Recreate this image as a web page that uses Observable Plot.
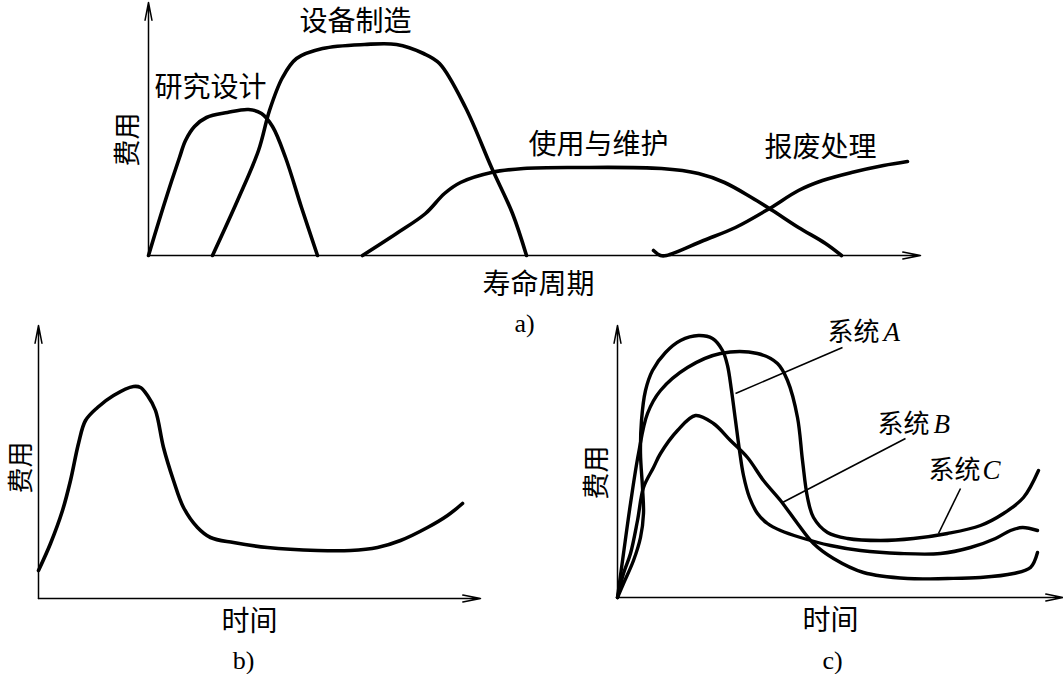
<!DOCTYPE html>
<html><head><meta charset="utf-8">
<script src="https://cdn.jsdelivr.net/npm/d3@7"></script>
<script src="https://cdn.jsdelivr.net/npm/@observablehq/plot@0.6"></script>
<style>
body{margin:0;background:#fff;}
#wrap{position:relative;width:1063px;height:674px;background:#fff;overflow:hidden;}
#wrap svg{position:absolute;left:0;top:0;background:transparent;overflow:visible;}
</style></head>
<body><div id="wrap"></div>
<script>
// ---------- Panel a: life-cycle cost phases (x: 寿命周期, y: 费用) ----------
const researchDesign = [[0,0],[1,3.3],[2.1,6.8],[3.1,9.8],[3.7,11.5],[4.6,12.9],[5.8,13.8],[7.9,14.3],[10,14.6],[11.3,14.2],[12.4,12.9],[13.7,9.8],[15.3,4.8],[16.9,0]];
const equipmentMfg = [[6.4,0],[8.9,5.5],[11,10.5],[12.1,14.5],[13.4,17.8],[14.8,19.7],[17.4,20.7],[21.6,21.1],[24.8,21.1],[27.5,20.2],[29.1,19.2],[31.7,14.8],[34.3,8.8],[36.4,4.2],[37.8,0]];
const useMaintain = [[21.4,0],[24.8,2.2],[27.7,4.2],[29.6,6.2],[31.2,7.3],[34.3,8.3],[37.5,8.7],[42.8,8.8],[51.3,8.7],[55,8.2],[57.6,7.3],[60.3,5.8],[62.4,4.5],[65,2.8],[67.7,1.2],[69.3,0]];
const disposal = [[50.5,0.5],[51.2,0],[51.8,0],[55.5,1.5],[58.7,2.8],[62.1,4.7],[65,6.5],[67.4,7.5],[70.3,8.3],[73.5,9],[75.9,9.4]];
const aLabels = [
  {x:20.7, y:23.3, text:"设备制造"},
  {x:6.2,  y:16.7, text:"研究设计"},
  {x:45,   y:11,   text:"使用与维护"},
  {x:67.2, y:10.7, text:"报废处理"},
  {x:39,   y:-3,   text:"寿命周期"}
];

// ---------- Panel b: cost over time ----------
const costB = [[0,2.8],[1.2,5.5],[2.4,8.8],[3.2,11.8],[4,15.5],[4.7,17.8],[5.9,19.1],[7.5,20.3],[9.5,21.2],[10.2,21.1],[10.9,20.3],[11.7,18.8],[12.5,15.1],[13.5,11.8],[14.5,9.1],[15.9,7.1],[17.2,6.1],[19.5,5.6],[22.9,5.1],[27.9,4.8],[31.2,4.8],[33.9,5.1],[36.2,5.8],[38.9,7.1],[40.9,8.3],[42.4,9.5]];

// ---------- Panel c: systems A, B, C ----------
const systemA = [[0,0],[0.6,1.4],[1.6,3.7],[2.3,6],[2.6,8.4],[2.5,11],[2.3,14.4],[2.4,17.7],[2.8,20.7],[3.5,22.7],[4.8,24.5],[6.3,25.7],[8.1,26.2],[9.5,25.9],[10.5,24.7],[11,23.2],[11.4,20.7],[11.8,17.7],[12.2,14.7],[12.6,12.2],[13.2,10],[14,8.4],[15,7.4],[16.3,6.7],[18.3,6],[21.3,5.2],[24.3,4.7],[28.3,4.4],[32.3,4.4],[35.3,5],[37.8,5.9],[39.3,6.7],[40.5,7],[42,6.7]];
const systemB = [[0,0],[0.6,2.4],[1.3,4.4],[2,7.7],[2.6,11],[3.6,13],[4.3,14.4],[6,16.7],[7.8,18.2],[9.6,17.4],[11.3,15.7],[13,14],[14.6,11.7],[16.3,9.7],[18,7.4],[19.6,5.4],[21.6,3.9],[24.6,2.5],[29,1.9],[33,1.9],[36.3,2],[39.6,2.4],[41.3,3],[42,4.5]];
const systemC = [[0,0],[0.6,4.4],[1.3,9.4],[2.1,14.4],[3,18.4],[4.3,20.7],[7,23],[10.3,24.4],[14,24.4],[16,23.4],[17,21.7],[18,18],[18.5,13.7],[19,10],[19.6,8],[21,6.5],[23,5.9],[26.3,5.7],[29.6,5.9],[33,6.4],[36.3,7.2],[38.6,8.4],[40.6,10],[42.1,12.7]];
const leaders = [
  {x1:22.5, y1:25,   x2:11.8, y2:20.4},
  {x1:28.8, y1:15.9, x2:16.5, y2:9.5},
  {x1:34.3, y1:10.9, x2:32.1, y2:6.4}
];
const systemNames = [
  {x:21,   y:26.5, text:"系统"},
  {x:26,   y:17.3, text:"系统"},
  {x:31.1, y:12.7, text:"系统"}
];
const systemLetters = [
  {x:26.6, y:26.5, text:"A"},
  {x:31.6, y:17.3, text:"B"},
  {x:36.5, y:12.7, text:"C"}
];

const CJK = "'Noto Sans CJK SC', 'Noto Sans', sans-serif";
const SERIF = "'Liberation Serif', 'DejaVu Serif', serif";
const W = 1063, H = 674;

function axesMarks(xmax, ymax) {
  return [
    Plot.arrow([{x1:0,y1:0,x2:0,y2:ymax}], {x1:"x1",y1:"y1",x2:"x2",y2:"y2", stroke:"black", strokeWidth:1.5, headLength:18, headAngle:22, inset:0}),
    Plot.arrow([{x1:0,y1:0,x2:xmax,y2:0}], {x1:"x1",y1:"y1",x2:"x2",y2:"y2", stroke:"black", strokeWidth:1.5, headLength:18, headAngle:22, inset:0})
  ];
}
function curve(data, sw) {
  return Plot.line(data, {x:d=>d[0], y:d=>d[1], curve:"catmull-rom", stroke:"black", strokeWidth:sw, strokeLinejoin:"round", strokeLinecap:"round"});
}
function cjkText(data, size, extra) {
  return Plot.text(data, Object.assign({x:"x", y:"y", text:"text", fontFamily:CJK, fontSize:size, fill:"black"}, extra||{}));
}

function panel(frame, xmax, ymax, marks) {
  const svg = Plot.plot({
    width: W, height: H,
    marginLeft: frame.left, marginRight: W - frame.right,
    marginTop: frame.top, marginBottom: H - frame.bottom,
    x: {domain:[0,xmax], axis:null},
    y: {domain:[0,ymax], axis:null},
    style: {background:"transparent", overflow:"visible"},
    marks
  });
  svg.style.position = "absolute"; svg.style.left = "0"; svg.style.top = "0";
  document.getElementById("wrap").appendChild(svg);
}

// Panel a
panel({left:148, right:920, top:2, bottom:255}, 77.2, 25.3, [
  ...axesMarks(77.2, 25.3),
  curve(researchDesign, 3.6),
  curve(equipmentMfg, 3.6),
  curve(useMaintain, 3.6),
  curve(disposal, 3.6),
  cjkText(aLabels, 28),
  cjkText([{x:-2, y:11.6, text:"费用"}], 27, {rotate:-90}),
  Plot.text([{x:37.6, y:-6.8, text:"a)"}], {x:"x", y:"y", text:"text", fontFamily:SERIF, fontSize:26, fill:"black"})
]);

// Panel b
panel({left:38, right:480, top:325, bottom:598}, 44.2, 27.3, [
  ...axesMarks(44.2, 27.3),
  curve(costB, 3.6),
  cjkText([{x:-1.7, y:13.1, text:"费用"}], 26, {rotate:-90}),
  cjkText([{x:21.1, y:-2.4, text:"时间"}], 28),
  Plot.text([{x:20.5, y:-6.2, text:"b)"}], {x:"x", y:"y", text:"text", fontFamily:SERIF, fontSize:26, fill:"black"})
]);

// Panel c
panel({left:617, right:1063, top:325, bottom:597}, 44.6, 27.2, [
  ...axesMarks(44.6, 27.2),
  curve(systemA, 3.4),
  curve(systemB, 3.4),
  curve(systemC, 3.4),
  Plot.link(leaders, {x1:"x1", y1:"y1", x2:"x2", y2:"y2", stroke:"black", strokeWidth:1.6}),
  cjkText(systemNames, 26, {textAnchor:"start"}),
  Plot.text(systemLetters, {x:"x", y:"y", text:"text", fontFamily:SERIF, fontStyle:"italic", fontSize:27, fill:"black", textAnchor:"start"}),
  cjkText([{x:-2, y:12.5, text:"费用"}], 27, {rotate:-90}),
  cjkText([{x:21.3, y:-2.4, text:"时间"}], 28),
  Plot.text([{x:21.5, y:-6.3, text:"c)"}], {x:"x", y:"y", text:"text", fontFamily:SERIF, fontSize:26, fill:"black"})
]);
</script>
</body></html>
